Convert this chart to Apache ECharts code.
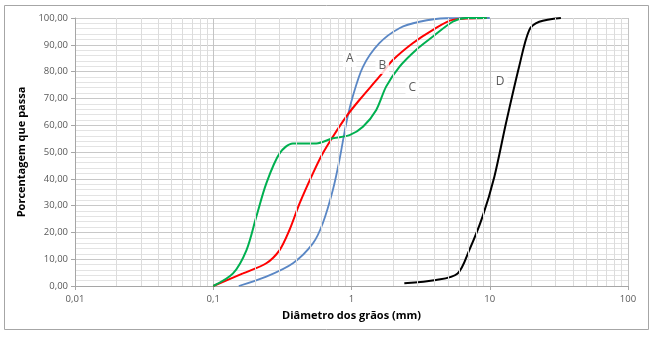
<!DOCTYPE html>
<html>
<head>
<meta charset="utf-8">
<script src="https://cdn.jsdelivr.net/npm/echarts@6/dist/echarts.min.js"></script>
<style>
  html, body { margin: 0; padding: 0; background: #fff; }
  #chart { width: 655px; height: 337px; }
</style>
</head>
<body>
<div id="chart"></div>
<script>
// Grain-size distribution curves: [diameter (mm), percent passing]
const curveA = [[0.153,0],[0.242,3.5],[0.377,8.5],[0.526,15.9],[0.62,23.4],[0.733,35.8],[0.818,47],[0.916,60.7],[1.02,70.6],[1.21,81.8],[1.59,90.6],[2.22,96.2],[3.1,98.6],[4.83,99.9],[10,100]];
const curveB = [[0.1,0],[0.164,4.7],[0.242,8.5],[0.302,13.4],[0.356,20.9],[0.422,30.9],[0.526,42],[0.62,49.5],[0.733,55.7],[0.916,63.2],[1.14,69.4],[1.59,78.1],[1.99,84.3],[2.77,90.6],[3.86,95.5],[5.39,99.3],[9.5,100]];
const curveC = [[0.1,0],[0.139,4.7],[0.174,13.4],[0.205,25.9],[0.242,38.3],[0.302,49.5],[0.377,53.2],[0.556,53.2],[0.733,55.1],[0.968,56.3],[1.21,59.4],[1.51,65.7],[1.78,74.4],[2.22,81.8],[2.93,88.1],[3.86,93],[5.39,98.6],[6.7,100],[9.5,100]];
const curveD = [[2.41,1],[4.09,2.2],[5.86,4.7],[7.11,13.4],[8.87,25.9],[10.8,40.8],[13.1,60.7],[16.3,81.8],[19.3,95.5],[22.8,98.6],[32.7,100]];

// Curve name labels placed in data coordinates
const curveNames = ['A', 'B', 'C', 'D'];
const namePositions = [[0.97,84.7],[1.67,82.1],[2.75,73.9],[11.9,76.1]];

// Axis range
const xMin = 0.01, xMax = 100;
const yMin = 0, yMax = 100, yStep = 10;

// Minor log gridlines at 2..9 of each decade
const minorX = [];
for (let dec = xMin; dec < xMax; dec *= 10) {
  for (let k = 2; k <= 9; k++) minorX.push(+(dec * k).toPrecision(3));
}

const chart = echarts.init(document.getElementById('chart'), null, { renderer: 'canvas' });

const font = 'Open Sans';
const curveStyle = (color, data, w) => ({
  type: 'line',
  data: data,
  smooth: 0.3,
  showSymbol: false,
  symbol: 'none',
  z: 3,
  lineStyle: { color: color, width: w || 2 },
  silent: true
});

chart.setOption({
  animation: false,
  backgroundColor: '#fff',
  grid: { left: 75, right: 27, top: 18, bottom: 51 },
  xAxis: {
    type: 'log',
    logBase: 10,
    min: xMin,
    max: xMax,
    name: 'Diâmetro dos grãos (mm)',
    nameLocation: 'middle',
    nameGap: 24,
    nameTextStyle: { fontFamily: font, fontSize: 11, fontWeight: 'bold', color: '#000' },
    axisLine: { show: true, onZero: false, lineStyle: { color: '#a6a6a6' } },
    axisTick: { show: true, length: 4, lineStyle: { color: '#a6a6a6' } },
    axisLabel: {
      fontFamily: font, fontSize: 9.5, color: '#595959', margin: 8,
      formatter: v => String(+v.toPrecision(3)).replace('.', ',')
    },
    splitLine: { show: true, lineStyle: { color: '#c4c4c4', width: 1 } }
  },
  yAxis: {
    type: 'value',
    min: yMin,
    max: yMax,
    interval: yStep,
    name: 'Porcentagem que passa',
    nameLocation: 'middle',
    nameGap: 46,
    nameTextStyle: { fontFamily: font, fontSize: 11, fontWeight: 'bold', color: '#000' },
    axisLine: { show: true, lineStyle: { color: '#a6a6a6' } },
    axisTick: { show: true, length: 4, lineStyle: { color: '#a6a6a6' } },
    axisLabel: {
      fontFamily: font, fontSize: 9.5, color: '#595959', margin: 7,
      formatter: v => v.toFixed(2).replace('.', ',')
    },
    splitLine: { show: true, lineStyle: { color: '#c8c8c8', width: 1 } },
    minorTick: { show: false, splitNumber: 5 },
    minorSplitLine: { show: true, lineStyle: { color: '#e3e3e3', width: 1 } }
  },
  graphic: [{
    type: 'rect',
    shape: { x: 4.5, y: 5.5, width: 644, height: 324 },
    style: { fill: null, stroke: '#a6a6a6', lineWidth: 1 },
    silent: true
  }],
  series: [
    {
      type: 'line',
      data: [],
      z: 1,
      silent: true,
      markLine: {
        silent: true,
        symbol: 'none',
        label: { show: false },
        animation: false,
        lineStyle: { color: '#dcdcdc', width: 1, type: 'solid' },
        emphasis: { disabled: true },
        data: minorX.map(v => ({ xAxis: v }))
      }
    },
    curveStyle('#5a87c5', curveA, 1.8),
    curveStyle('#ff0000', curveB, 2),
    curveStyle('#00b050', curveC, 2),
    curveStyle('#000000', curveD, 2),
    {
      type: 'scatter',
      data: namePositions.map((p, i) => ({ value: p, name: curveNames[i] })),
      symbolSize: 0,
      z: 10,
      silent: true,
      label: {
        show: true,
        position: 'inside',
        formatter: p => p.name,
        fontFamily: font,
        fontSize: 12,
        color: '#333',
        backgroundColor: '#fff',
        padding: [2, 3]
      }
    }
  ]
});
</script>
</body>
</html>
